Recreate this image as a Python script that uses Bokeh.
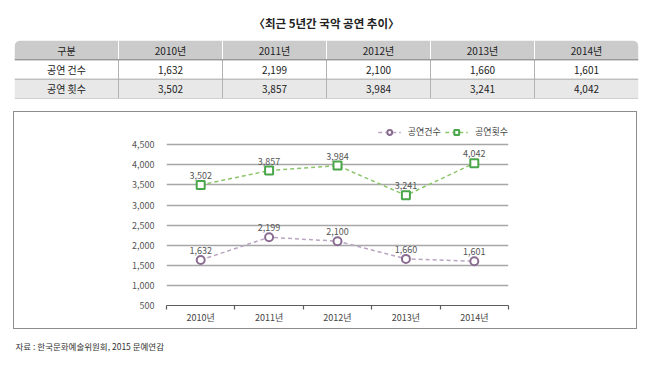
from bokeh.plotting import figure
from bokeh.models import (Range1d, FixedTicker, LinearAxis, Legend, LegendItem,
                          NumeralTickFormatter, Span, VBar)
from bokeh.layouts import column
from bokeh.embed import file_html
from bokeh.resources import INLINE
from bokeh.core.properties import value

FONT = "Noto Sans CJK KR"

# ---------------- data ----------------
title_text = "〈최근 5년간 국악 공연 추이〉"
header_first = "구분"
years = ["2010년", "2011년", "2012년", "2013년", "2014년"]
series_names = ["공연 건수", "공연 횟수"]
legend_names = ["공연건수", "공연횟수"]
counts = [1632, 2199, 2100, 1660, 1601]
performances = [3502, 3857, 3984, 3241, 4042]
y_ticks = [500, 1000, 1500, 2000, 2500, 3000, 3500, 4000, 4500]
source_note = "자료 : 한국문화예술위원회, 2015 문예연감"

W = 655


def no_align(fig):
    if "frame_align" in fig.properties():
        fig.frame_align = False


# ---------------- title + table figure ----------------
cols = [header_first] + years
n = len(cols)
cx = [i + 0.5 for i in range(n)]
hdr_y = len(series_names)

t = figure(width=W, height=105, x_range=Range1d(0, n), y_range=Range1d(0, hdr_y + 1),
           x_axis_location=None, y_axis_location=None, output_backend="svg",
           toolbar_location=None, title=title_text,
           min_border_left=14, min_border_right=17, min_border_top=40, min_border_bottom=7)
no_align(t)
t.outline_line_color = None
t.grid.visible = False
t.title.align = "center"
t.title.text_font = FONT
t.title.text_font_size = "11.5px"
t.title.text_font_style = "bold"
t.title.text_color = "#222222"
t.title.standoff = 19

radius_ok = "border_radius" in VBar.properties()
for i in range(n):
    kw = {}
    if radius_ok:
        if i == 0:
            kw["border_radius"] = (6, 0, 0, 0)
        elif i == n - 1:
            kw["border_radius"] = (0, 6, 0, 0)
    t.vbar(x=[cx[i]], width=1, bottom=hdr_y, top=hdr_y + 1, fill_color="#cbcbcb",
           line_color=None, **kw)

t.vbar(x=cx, width=1, bottom=0, top=1, fill_color="#e8e8e8", line_color=None)

t.add_layout(Span(location=hdr_y, dimension="width", line_color="#7a7a7a", line_width=1))
for k in range(hdr_y):
    t.add_layout(Span(location=k, dimension="width", line_color="#a8a8a8", line_width=1))

bounds = list(range(1, n))
t.segment(x0=bounds, y0=[hdr_y] * len(bounds), x1=bounds, y1=[hdr_y + 1] * len(bounds),
          line_color="white", line_width=1)
t.segment(x0=bounds, y0=[0] * len(bounds), x1=bounds, y1=[hdr_y] * len(bounds),
          line_color="#b3b3b3", line_width=1)

txt_kw = dict(text_align="center", text_baseline="middle", text_font=value(FONT),
              text_font_size="10px", text_color="#222222")
t.text(x=cx, y=[hdr_y + 0.5] * n, text=cols, **txt_kw)
for r, (name, vals) in enumerate(zip(series_names, [counts, performances])):
    yv = hdr_y - 0.5 - r
    t.text(x=[cx[0]], y=[yv], text=[name], **txt_kw)
    t.text(x=cx[1:], y=[yv] * len(years), text=[f"{v:,}" for v in vals], **txt_kw)

# ---------------- chart figure (boxed) ----------------
xs = list(range(len(years)))
p = figure(width=624, height=218, x_range=Range1d(-0.5, len(years) - 0.5),
           y_range=Range1d(y_ticks[0], 4980),
           x_axis_location=None, output_backend="svg", toolbar_location=None,
           min_border_left=152, min_border_right=130, min_border_top=13, min_border_bottom=25,
           margin=(6, 0, 0, 13),
           styles={"border": "1px solid #8d8d8d"})
no_align(p)
p.outline_line_color = None
p.xgrid.visible = False
p.ygrid.ticker = FixedTicker(ticks=y_ticks)
p.ygrid.grid_line_color = "#a6a6a6"
p.ygrid.grid_line_width = 1.3

p.yaxis.ticker = FixedTicker(ticks=y_ticks)
p.yaxis.formatter = NumeralTickFormatter(format="0,0")
p.yaxis.axis_line_color = None
p.yaxis.major_tick_line_color = None
p.yaxis.minor_tick_line_color = None
p.yaxis.major_label_standoff = 6
p.yaxis.major_label_text_font = FONT
p.yaxis.major_label_text_font_size = "9px"
p.yaxis.major_label_text_color = "#555555"

x_axis = LinearAxis(ticker=FixedTicker(ticks=xs, minor_ticks=[i - 0.5 for i in range(len(years) + 1)]),
                    major_label_overrides={i: yr for i, yr in zip(xs, years)},
                    axis_line_color="#5c5c5c", axis_line_width=1.2,
                    major_tick_line_color=None, major_tick_in=0, major_tick_out=0,
                    minor_tick_line_color="#5c5c5c", minor_tick_line_width=1.2,
                    minor_tick_in=0, minor_tick_out=4,
                    major_label_standoff=1, major_label_text_font=FONT,
                    major_label_text_font_size="9px", major_label_text_color="#444444")
p.add_layout(x_axis, "below")

l1 = p.line(xs, counts, line_color="#b9a4c2", line_width=1.5, line_dash="4 3")
s1 = p.scatter(xs, counts, marker="circle", size=8, line_color="#8a6c90", line_width=2,
               fill_color="white")
l2 = p.line(xs, performances, line_color="#8cc46b", line_width=1.5, line_dash="4 3")
s2 = p.scatter(xs, performances, marker="square", size=8, line_color="#4aa64a", line_width=2,
               fill_color="white")

lab_kw = dict(text_align="center", text_baseline="bottom", y_offset=-6, text_font=value(FONT),
              text_font_size="9px", text_color="#555555")
p.text(x=xs, y=counts, text=[f"{v:,}" for v in counts], **lab_kw)
p.text(x=xs, y=performances, text=[f"{v:,}" for v in performances], **lab_kw)

legend = Legend(items=[LegendItem(label=legend_names[0], renderers=[l1, s1]),
                       LegendItem(label=legend_names[1], renderers=[l2, s2])],
                orientation="horizontal", location="top_right", border_line_color=None,
                background_fill_alpha=0, label_text_font=FONT, label_text_font_size="9px",
                label_text_color="#444444", glyph_width=23, glyph_height=12, label_standoff=7,
                spacing=4, margin=0, padding=0)
p.add_layout(legend)

# ---------------- source note figure ----------------
f = figure(width=W, height=39, x_range=Range1d(0, W), y_range=Range1d(39, 0),
           x_axis_location=None, y_axis_location=None, output_backend="svg",
           toolbar_location=None, min_border=0)
no_align(f)
f.outline_line_color = None
f.grid.visible = False
f.text(x=[15], y=[16], text=[source_note], text_align="left", text_baseline="middle",
       text_font=value(FONT), text_font_size="8.5px", text_color="#333333")

layout = column(t, p, f, spacing=0)
open("out.html", "w").write(file_html(layout, INLINE))
